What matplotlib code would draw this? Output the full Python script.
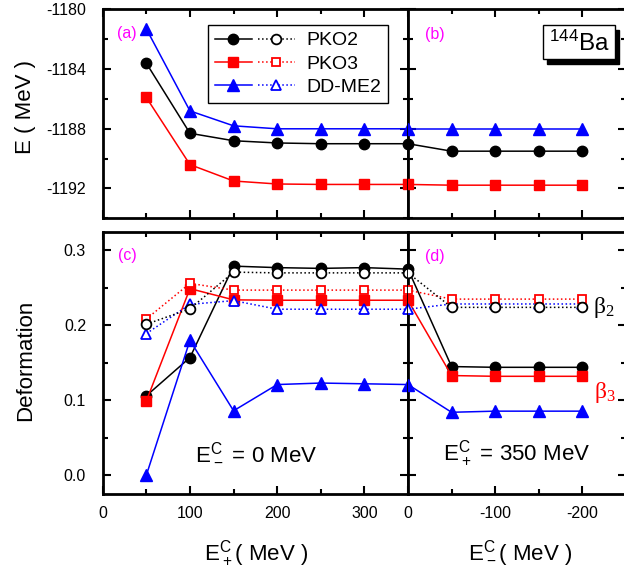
import matplotlib
matplotlib.use("Agg")
import matplotlib.pyplot as plt
from matplotlib.lines import Line2D
from matplotlib.legend_handler import HandlerTuple
from matplotlib.patches import Rectangle
from matplotlib.ticker import MultipleLocator, FixedLocator

plt.rcParams['font.family'] = ['Liberation Sans', 'DejaVu Sans']
plt.rcParams['axes.unicode_minus'] = False

# ---------------- data ----------------
x_plus = [50, 100, 150, 200, 250, 300, 350]      # E+^C (MeV), E-^C = 0
x_minus = [0, -50, -100, -150, -200]             # E-^C (MeV), E+^C = 350

E_plus_PKO2 = [-1183.6, -1188.3, -1188.8, -1188.95, -1189.0, -1189.0, -1189.0]
E_plus_PKO3 = [-1185.9, -1190.4, -1191.5, -1191.7, -1191.73, -1191.73, -1191.73]
E_plus_DDME2 = [-1181.3, -1186.8, -1187.8, -1188.0, -1188.0, -1188.0, -1188.0]

E_minus_PKO2 = [-1189.0, -1189.5, -1189.5, -1189.5, -1189.5]
E_minus_PKO3 = [-1191.73, -1191.78, -1191.78, -1191.78, -1191.78]
E_minus_DDME2 = [-1188.0, -1188.0, -1188.0, -1188.0, -1188.0]

b3_plus_PKO2 = [0.106, 0.157, 0.279, 0.277, 0.276, 0.277, 0.275]
b3_plus_PKO3 = [0.099, 0.249, 0.234, 0.2335, 0.2335, 0.2335, 0.2335]
b3_plus_DDME2 = [0.0, 0.180, 0.086, 0.121, 0.123, 0.122, 0.121]
b2_plus_PKO2 = [0.2015, 0.222, 0.271, 0.270, 0.270, 0.270, 0.270]
b2_plus_PKO3 = [0.2085, 0.256, 0.247, 0.247, 0.247, 0.247, 0.247]
b2_plus_DDME2 = [0.189, 0.228, 0.233, 0.2215, 0.2215, 0.2215, 0.2215]

b3_minus_PKO2 = [0.275, 0.145, 0.144, 0.144, 0.144]
b3_minus_PKO3 = [0.2335, 0.133, 0.132, 0.132, 0.132]
b3_minus_DDME2 = [0.121, 0.084, 0.0855, 0.0855, 0.0855]
b2_minus_PKO2 = [0.270, 0.224, 0.224, 0.224, 0.224]
b2_minus_PKO3 = [0.247, 0.235, 0.235, 0.235, 0.235]
b2_minus_DDME2 = [0.2215, 0.2285, 0.2285, 0.2285, 0.2285]

labels = ['PKO2', 'PKO3', 'DD-ME2']
colors = ['black', 'red', 'blue']
markers = ['o', 's', '^']
msizes = [7.5, 6.5, 8.5]
omsizes = [7.0, 6.0, 7.5]

# ---------------- figure ----------------
fig = plt.figure(figsize=(6.24, 5.71), dpi=100)
axA = fig.add_axes([0.1646, 0.6177, 0.4893, 0.3657])
axB = fig.add_axes([0.6538, 0.6177, 0.3494, 0.3657])
axC = fig.add_axes([0.1646, 0.1349, 0.4893, 0.4594])
axD = fig.add_axes([0.6538, 0.1349, 0.3494, 0.4594])

LW = 1.1
def filled(ax, x, y, i):
    ax.plot(x, y, '-', color=colors[i], lw=LW, marker=markers[i],
            ms=msizes[i], mfc=colors[i], mec=colors[i], zorder=3)

def opened(ax, x, y, i):
    ax.plot(x, y, ':', color=colors[i], lw=LW, marker=markers[i],
            ms=omsizes[i], mfc='white', mec=colors[i], mew=1.3, zorder=4)

# top panels (energies)
for i, (yp, ym) in enumerate([(E_plus_PKO2, E_minus_PKO2),
                              (E_plus_PKO3, E_minus_PKO3),
                              (E_plus_DDME2, E_minus_DDME2)]):
    filled(axA, x_plus, yp, i)
    filled(axB, x_minus, ym, i)

# bottom panels (deformations)
b3p = [b3_plus_PKO2, b3_plus_PKO3, b3_plus_DDME2]
b3m = [b3_minus_PKO2, b3_minus_PKO3, b3_minus_DDME2]
b2p = [b2_plus_PKO2, b2_plus_PKO3, b2_plus_DDME2]
b2m = [b2_minus_PKO2, b2_minus_PKO3, b2_minus_DDME2]
for i in range(3):
    filled(axC, x_plus, b3p[i], i)
    filled(axD, x_minus, b3m[i], i)
for i in [2, 1, 0]:
    opened(axC, x_plus, b2p[i], i)
    opened(axD, x_minus, b2m[i], i)

# axes limits and ticks
for ax in (axA, axC):
    ax.set_xlim(0, 350)
    ax.xaxis.set_major_locator(FixedLocator([0, 100, 200, 300]))
    ax.xaxis.set_minor_locator(FixedLocator([50, 150, 250]))
for ax in (axB, axD):
    ax.set_xlim(0, -250)
    ax.xaxis.set_major_locator(FixedLocator([0, -100, -200]))
    ax.xaxis.set_minor_locator(FixedLocator([-50, -150, -250]))
for ax in (axA, axB):
    ax.set_ylim(-1194, -1180)
    ax.yaxis.set_major_locator(MultipleLocator(4))
    ax.yaxis.set_minor_locator(MultipleLocator(2))
    ax.tick_params(labelbottom=False)
for ax in (axC, axD):
    ax.set_ylim(-0.025, 0.325)
    ax.yaxis.set_major_locator(MultipleLocator(0.1))
    ax.yaxis.set_minor_locator(MultipleLocator(0.05))
axC.yaxis.set_major_formatter(matplotlib.ticker.FormatStrFormatter('%.1f'))
axA.yaxis.set_major_formatter(matplotlib.ticker.FormatStrFormatter('%d'))
for ax in (axB, axD):
    ax.tick_params(labelleft=False)

for ax in (axA, axB, axC, axD):
    ax.tick_params(which='both', direction='in', top=True, right=True,
                   width=1.5, labelsize=11.5)
    ax.tick_params(which='major', length=6)
    ax.tick_params(which='minor', length=3.5)
    ax.tick_params(axis='x', pad=9)
    ax.tick_params(axis='y', pad=12)
    for s in ax.spines.values():
        s.set_linewidth(2.0)

# axis labels
fig.text(0.041, 0.812, 'E ( MeV )', rotation=90, ha='center', va='center', fontsize=16)
fig.text(0.041, 0.368, 'Deformation', rotation=90, ha='center', va='center', fontsize=16)
fig.text(0.410, 0.032, r'$\mathregular{E^C_+}$( MeV )', ha='center', va='center', fontsize=16)
fig.text(0.833, 0.032, r'$\mathregular{E^C_-}$( MeV )', ha='center', va='center', fontsize=16)

# panel labels
mag = '#ff00ff'
axA.text(0.08, 0.887, '(a)', color=mag, transform=axA.transAxes, ha='center', va='center', fontsize=11.5)
axB.text(0.124, 0.878, '(b)', color=mag, transform=axB.transAxes, ha='center', va='center', fontsize=11.5)
axC.text(0.08, 0.911, '(c)', color=mag, transform=axC.transAxes, ha='center', va='center', fontsize=11.5)
axD.text(0.124, 0.904, '(d)', color=mag, transform=axD.transAxes, ha='center', va='center', fontsize=11.5)

# in-panel annotations
axC.text(0.502, 0.16, r'$\mathregular{E^C_-}$ = 0 MeV', transform=axC.transAxes,
         ha='center', va='center', fontsize=16)
axD.text(0.50, 0.156, r'$\mathregular{E^C_+}$ = 350 MeV', transform=axD.transAxes,
         ha='center', va='center', fontsize=16)
axD.text(0.90, 0.71, r'β$\mathregular{_2}$', transform=axD.transAxes, color='black',
         ha='center', va='center', fontsize=17, family=['Liberation Serif', 'DejaVu Serif'])
axD.text(0.905, 0.385, r'β$\mathregular{_3}$', transform=axD.transAxes, color='red',
         ha='center', va='center', fontsize=17, family=['Liberation Serif', 'DejaVu Serif'])

# 144Ba box with shadow
bx0, bx1, by0, by1 = 0.619, 0.950, 0.763, 0.926
dx, dy = 0.02, -0.022
axB.add_patch(Rectangle((bx0 + dx, by0 + dy), bx1 - bx0, by1 - by0, transform=axB.transAxes,
                        facecolor='black', edgecolor='black', zorder=5, clip_on=False))
axB.add_patch(Rectangle((bx0, by0), bx1 - bx0, by1 - by0, transform=axB.transAxes,
                        facecolor='white', edgecolor='black', lw=1.0, zorder=6, clip_on=False))
axB.text((bx0 + bx1) / 2, (by0 + by1) / 2 - 0.005, r'$\mathregular{^{144}}$Ba', transform=axB.transAxes,
         ha='center', va='center', fontsize=17.5, zorder=7)

# legend
handles = []
for i in range(3):
    h1 = Line2D([], [], ls='-', color=colors[i], lw=LW, marker=markers[i], ms=msizes[i],
                mfc=colors[i], mec=colors[i])
    h2 = Line2D([], [], ls=':', color=colors[i], lw=LW, marker=markers[i], ms=omsizes[i],
                mfc='white', mec=colors[i], mew=1.3)
    handles.append((h1, h2))
leg = axA.legend(handles, labels, handler_map={tuple: HandlerTuple(ndivide=None, pad=0.3)},
                 handlelength=4.1, loc='upper right', bbox_to_anchor=(0.9345, 0.926),
                 fontsize=14, frameon=True, fancybox=False, edgecolor='black', framealpha=1,
                 borderaxespad=0, labelspacing=0.3, handletextpad=0.6, borderpad=0.35,
                 numpoints=1)
leg.get_frame().set_linewidth(1.0)
leg.set_zorder(10)

fig.savefig('out.png', dpi=100)
